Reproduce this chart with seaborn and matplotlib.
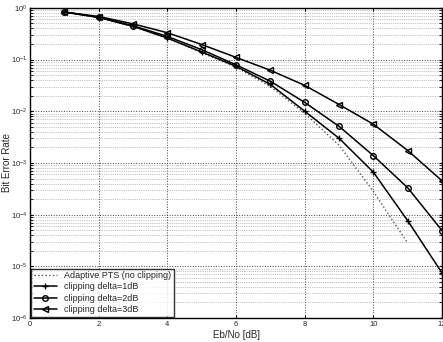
import matplotlib
matplotlib.use('Agg')
import matplotlib.pyplot as plt
import seaborn as sns
import pandas as pd

# Eb/No in dB and bit error rates
ebno = [1, 2, 3, 4, 5, 6, 7, 8, 9, 10, 11, 12]
ber_pts = [0.83, 0.65, 0.43, 0.26, 0.135, 0.071, 0.030, 0.0091, 0.0022, 2.8e-4, 2.8e-5]
ber_clip1 = [0.83, 0.65, 0.44, 0.26, 0.14, 0.074, 0.033, 0.010, 0.0030, 6.6e-4, 7.6e-5, 7.4e-6]
ber_clip2 = [0.83, 0.66, 0.45, 0.28, 0.155, 0.079, 0.038, 0.0148, 0.0051, 0.00138, 3.3e-4, 4.9e-5]
ber_clip3 = [0.83, 0.68, 0.49, 0.33, 0.195, 0.110, 0.062, 0.0316, 0.0135, 0.0056, 0.00174, 4.5e-4]

labels = ['Adaptive PTS (no clipping)', 'clipping delta=1dB',
          'clipping delta=2dB', 'clipping delta=3dB']

sns.set_style('white')
plt.rcParams['font.family'] = ['Liberation Sans', 'DejaVu Sans']

fig = plt.figure(figsize=(4.43, 3.42), dpi=100)
ax = fig.add_axes([0.068, 0.07, 0.93, 0.907])

series = [ber_pts, ber_clip1, ber_clip2, ber_clip3]
styles = [dict(color='#555555', linestyle=':', marker=None, lw=1.0),
          dict(color='black', linestyle='-', marker='+', lw=1.1),
          dict(color='black', linestyle='-', marker='o', lw=1.1),
          dict(color='black', linestyle='-', marker='<', lw=1.1)]

for vals, lab, st in zip(series, labels, styles):
    df = pd.DataFrame({'x': ebno[:len(vals)], 'y': vals})
    sns.lineplot(data=df, x='x', y='y', ax=ax, label=lab, color=st['color'],
                 linestyle=st['linestyle'], marker=st['marker'], lw=st['lw'],
                 markersize=4, markerfacecolor='none', markeredgecolor='black',
                 markeredgewidth=1.0)

ax.set_yscale('log')
ax.set_xlim(0, 12)
ax.set_ylim(1e-6, 1)
ax.set_xticks([0, 2, 4, 6, 8, 10, 12])
ax.grid(True, which='major', linestyle=':', color='#444444', lw=0.7)
ax.grid(True, which='minor', linestyle=':', color='#888888', lw=0.5)
ax.tick_params(axis='both', which='both', labelsize=5.5, direction='in',
               length=2, color='black', left=True, bottom=True, top=True, right=True,
               pad=2)
for s in ax.spines.values():
    s.set_color('black')
    s.set_linewidth(1.0)

ax.set_xlabel('Eb/No [dB]', fontsize=7)
ax.set_ylabel('Bit Error Rate', fontsize=7)
ax.yaxis.set_label_coords(-0.045, 0.5)
ax.xaxis.set_label_coords(0.5, -0.038)

leg = ax.legend(loc='lower left', fontsize=6.5, frameon=True, fancybox=False,
                edgecolor='black', handlelength=2.5, borderpad=0.3,
                labelspacing=0.25, borderaxespad=0.15)
leg.get_frame().set_linewidth(1.0)

fig.savefig('out.png', dpi=100, facecolor='white')
